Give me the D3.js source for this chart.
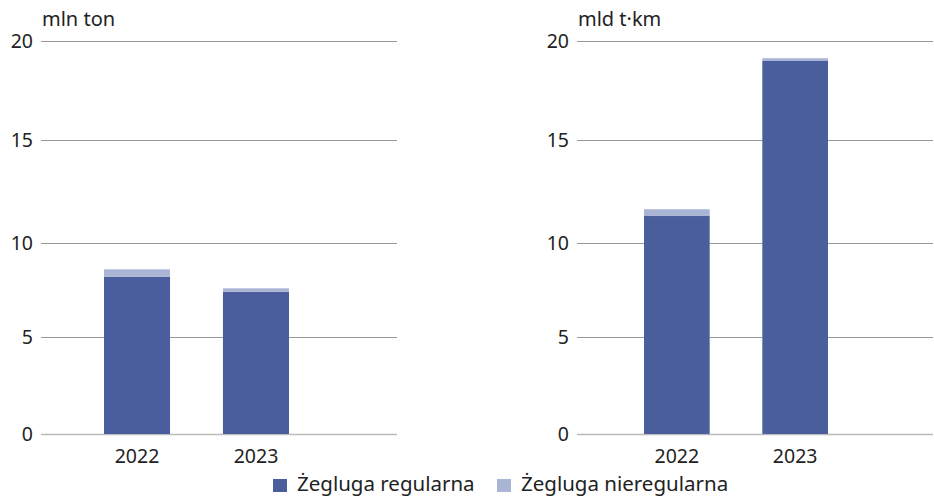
<!DOCTYPE html>
<html>
<head>
<meta charset="utf-8">
<script src="https://cdn.jsdelivr.net/npm/d3@7"></script>
<style>
  body { margin: 0; background: #fff; }
  text { font-family: "Noto Sans", "Open Sans", sans-serif; fill: #222; }
</style>
</head>
<body>
<svg id="chart" width="934" height="498"></svg>
<script>
var years = ["2022", "2023"];
var series = ["Żegluga regularna", "Żegluga nieregularna"];
var colors = ["#4a5e9e", "#aab4d5"];
var yTicks = [0, 5, 10, 15, 20];

// mln ton
var tonRegular = [8.21, 7.41];
var tonIrregular = [0.39, 0.18];
// mld t·km
var tkmRegular = [11.31, 18.99];
var tkmIrregular = [0.33, 0.14];

var panels = [
  { unit: "mln ton", regular: tonRegular, irregular: tonIrregular,
    gridX: [41, 397], bandX: [104, 289] },
  { unit: "mld t·km", regular: tkmRegular, irregular: tkmIrregular,
    gridX: [577, 933], bandX: [644, 828] }
];

var svg = d3.select("#chart");

// gridlines in the source are not quite evenly spaced
var y = d3.scaleLinear().domain(yTicks).range([434, 337, 243, 140, 41]);

panels.forEach(function (p) {
  var g = svg.append("g");

  var x = d3.scaleBand()
    .domain(years)
    .range(p.bandX)
    .paddingInner(0.445)
    .paddingOuter(0);

  // gridlines
  g.selectAll("line.grid")
    .data(yTicks)
    .enter().append("line")
    .attr("x1", p.gridX[0])
    .attr("x2", p.gridX[1])
    .attr("y1", function (d) { return Math.round(y(d)) + 0.5; })
    .attr("y2", function (d) { return Math.round(y(d)) + 0.5; })
    .attr("stroke", function (d) { return d === 0 ? "#bbb" : "#999"; })
    .attr("stroke-width", function (d) { return d === 0 ? 1.5 : 1; });

  // y tick labels
  g.selectAll("text.tick")
    .data(yTicks)
    .enter().append("text")
    .attr("x", p.gridX[0] - 8)
    .attr("y", function (d) { return y(d) + 7; })
    .attr("text-anchor", "end")
    .attr("font-size", 19.5)
    .text(function (d) { return d; });

  g.append("text")
    .attr("x", p.gridX[0] + 1)
    .attr("y", 26)
    .attr("font-size", 20)
    .text(p.unit);

  var stacked = years.map(function (yr, i) {
    return { year: yr, reg: p.regular[i], irr: p.irregular[i] };
  });

  // regular
  g.selectAll("rect.reg")
    .data(stacked)
    .enter().append("rect")
    .attr("x", function (d) { return x(d.year); })
    .attr("width", x.bandwidth())
    .attr("y", function (d) { return y(d.reg); })
    .attr("height", function (d) { return y(0) - y(d.reg); })
    .attr("fill", colors[0]);

  // irregular on top
  g.selectAll("rect.irr")
    .data(stacked)
    .enter().append("rect")
    .attr("x", function (d) { return x(d.year); })
    .attr("width", x.bandwidth())
    .attr("y", function (d) { return y(d.reg + d.irr); })
    .attr("height", function (d) { return y(d.reg) - y(d.reg + d.irr); })
    .attr("fill", colors[1]);

  // x labels
  g.selectAll("text.year")
    .data(years)
    .enter().append("text")
    .attr("x", function (d) { return x(d) + x.bandwidth() / 2; })
    .attr("y", 463)
    .attr("text-anchor", "middle")
    .attr("font-size", 19.5)
    .text(function (d) { return d; });
});

// legend
var legendX = [273, 497];
var legend = svg.selectAll("g.legend")
  .data(series)
  .enter().append("g")
  .attr("transform", function (d, i) { return "translate(" + legendX[i] + ",0)"; });

legend.append("rect")
  .attr("x", 0)
  .attr("y", 479)
  .attr("width", 14)
  .attr("height", 13)
  .attr("fill", function (d, i) { return colors[i]; });

legend.append("text")
  .attr("x", 24)
  .attr("y", 491)
  .attr("font-size", 20.5)
  .text(function (d) { return d; });
</script>
</body>
</html>
